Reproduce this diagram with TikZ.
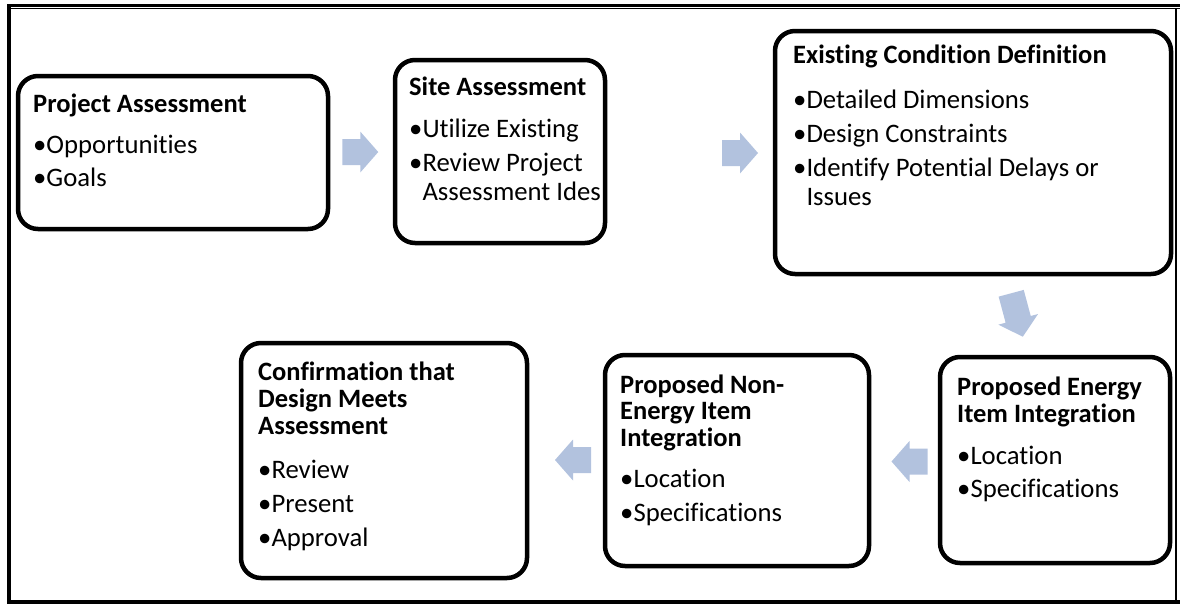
\documentclass[tikz,border=0pt]{standalone}
\usepackage{fontspec}
\setmainfont{Carlito}[Ligatures=NoCommon]
\usetikzlibrary{calc}
\definecolor{arrowfill}{RGB}{178,194,222}
\newcommand\bitem{•}
\newcommand\bcont{\hphantom{•}}
\tikzset{
  stepbox/.style={draw=black, line width=4.5pt, rounded corners=20pt, fill=white, inner sep=0pt},
  ttl/.style={anchor=north west, inner sep=0pt, align=left, font=\fontsize{26.5}{26.5}\selectfont\bfseries},
  bul/.style={anchor=north west, inner sep=0pt, align=left, font=\fontsize{26.7}{28.5}\selectfont},
  pics/blockarrow/.style={code={
    \fill[arrowfill] ({-#1/2},-13) -- ({#1/2-18},-13) -- ({#1/2-18},-20.5) -- ({#1/2},0)
      -- ({#1/2-18},20.5) -- ({#1/2-18},13) -- ({-#1/2},13) -- cycle;}},
  pics/blockarrow/.default=36
}
\begin{document}
\begin{tikzpicture}[x=1pt,y=-1pt]
\useasboundingbox (0,0) rectangle (1180,605);
% outer frame
\draw[line width=2.5pt] (7,5.5) -- (1180,5.5);
\draw[line width=1.2pt] (9,8.5) -- (1180,8.5);
\draw[line width=1.3pt] (1176,8.5) -- (1176,601);
\draw[line width=4pt] (9,7) -- (9,601.5) -- (1180,601.5);
% boxes
\node[stepbox, minimum width=310pt, minimum height=153pt] (b1) at (173,152.5) {};
\node[stepbox, minimum width=210pt, minimum height=183pt] (b2) at (500,151.5) {};
\node[stepbox, minimum width=396pt, minimum height=243pt] (b3) at (973,152.5) {};
\node[stepbox, minimum width=230pt, minimum height=206pt] (b4) at (1055,460) {};
\node[stepbox, minimum width=264pt, minimum height=211pt] (b5) at (737,460.5) {};
\node[stepbox, minimum width=286pt, minimum height=235pt] (b6) at (384,460.5) {};
% titles
\node[ttl] (t1) at (33,93.45) {\strut Project Assessment};
\node[ttl] (t2) at (409,76.45) {\strut Site Assessment};
\node[ttl] (t3) at (793,44.45) {\strut Existing Condition Definition};
\node[ttl] (t4) at (957,376.45) {\strut Proposed Energy\\Item Integration};
\node[ttl] (t5) at (620,374.45) {\strut Proposed Non-\\Energy Item\\Integration};
\node[ttl] (t6) at (258,361.45) {\strut Confirmation that\\Design Meets\\Assessment};
% bullets
\node[bul] (l1) at (33,133.05) {\strut\bitem Opportunities\\[5pt]\bitem Goals};
\node[bul] (l2) at (409,117.05) {\strut\bitem Utilize Existing\\[6pt]\bitem Review Project\\\bcont Assessment Ides};
\node[bul] (l3) at (793,88.05) {\strut\bitem Detailed Dimensions\\[5.5pt]\bitem Design Constraints\\[6pt]\bitem Identify Potential Delays or\\\bcont Issues};
\node[bul] (l4) at (957,444.05) {\strut\bitem Location\\[5pt]\bitem Specifications};
\node[bul] (l5) at (620,467.05) {\strut\bitem Location\\[6pt]\bitem Specifications};
\node[bul] (l6) at (258,458.05) {\strut\bitem Review\\[5.5pt]\bitem Present\\[6pt]\bitem Approval};
% arrows
\coordinate (a1) at ($(b1.east)!0.48!(b2.west)$);
\coordinate (a2) at (740,153);
\coordinate (a3) at (1017,315);
\coordinate (a4) at (909.5,461.5);
\coordinate (a5) at (573,460);
\pic at (a1) {blockarrow};
\pic at (a2) {blockarrow};
\pic[rotate=-75] at (a3) {blockarrow=45};
\pic[rotate=180] at (a4) {blockarrow};
\pic[rotate=180] at (a5) {blockarrow};
\end{tikzpicture}
\end{document}
